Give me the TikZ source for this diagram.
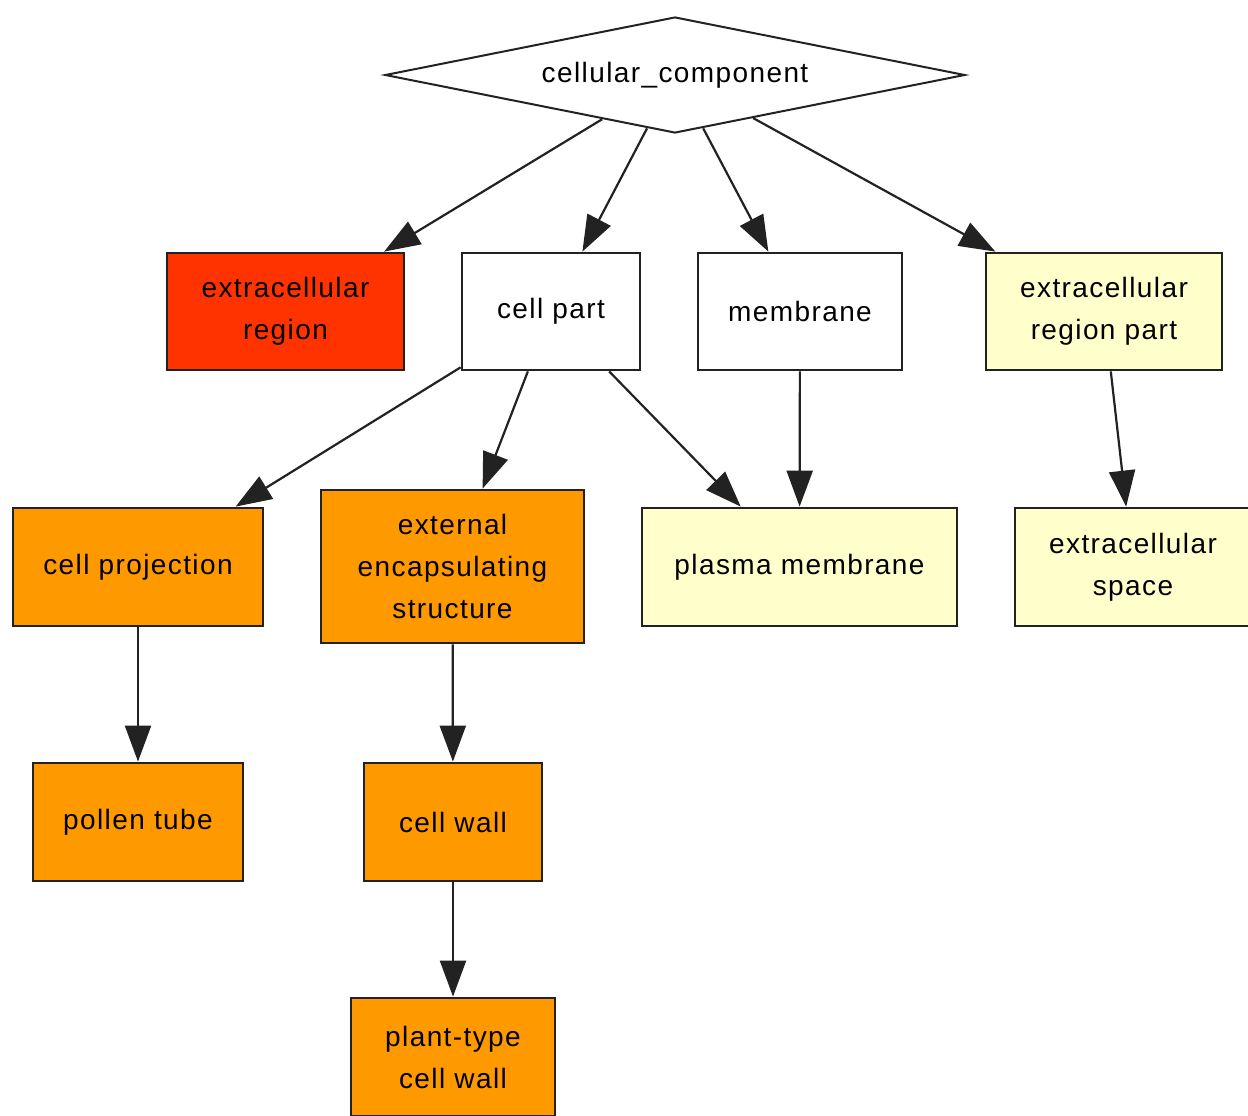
\documentclass[tikz,border=0pt]{standalone}
\usepackage{fontspec}
\setmainfont{Liberation Sans}[LetterSpace=5]
\usetikzlibrary{shapes.geometric,arrows.meta}
\definecolor{goRed}{HTML}{FF3300}
\definecolor{goOrange}{HTML}{FF9900}
\definecolor{goPale}{HTML}{FFFFCC}
\definecolor{goLine}{HTML}{222222}
\begin{document}
\begin{tikzpicture}[x=0.5pt,y=-0.5pt,
  term/.style={draw=goLine, line width=1.4pt, rectangle, inner sep=0pt,
    align=center, font=\fontsize{14pt}{21pt}\selectfont},
  root/.style={draw=goLine, line width=1pt, diamond, inner sep=0pt,
    minimum width=290pt, minimum height=58pt, aspect=5,
    font=\fontsize{14pt}{21pt}\selectfont},
  isa/.style={draw=goLine, line width=1.1pt,
    -{Triangle[length=18pt,width=13pt]}}]
\useasboundingbox (0,0) rectangle (1248,1115);
\begin{scope}
\clip (0,0) rectangle (1248,1115);
% root term
\node[root] (cc) at (675,75) {cellular\_component};
% first level
\node[term, fill=goRed, minimum width=118.5pt, minimum height=58.5pt] (er) at (285.5,311.5) {extracellular\\region};
\node[term, fill=white, minimum width=89pt, minimum height=58.5pt] (cp) at (551,311.5) {cell part};
\node[term, fill=white, minimum width=102pt, minimum height=58.5pt] (mem) at (800,311.5) {membrane};
\node[term, fill=goPale, minimum width=118pt, minimum height=58.5pt] (erp) at (1104,311.5) {extracellular\\region part};
% second level
\node[term, fill=goOrange, minimum width=125pt, minimum height=59pt] (proj) at (138,567) {cell projection};
\node[term, fill=goOrange, minimum width=131.5pt, minimum height=76.5pt] (ees) at (452.5,566.5) {external\\encapsulating\\structure};
\node[term, fill=goPale, minimum width=157.5pt, minimum height=59pt] (pm) at (799.5,567) {plasma membrane};
\node[term, fill=goPale, minimum width=118pt, minimum height=59pt] (es) at (1133,567) {extracellular\\space};
% third level
\node[term, fill=goOrange, minimum width=105pt, minimum height=59pt] (pt) at (138,822) {pollen tube};
\node[term, fill=goOrange, minimum width=89pt, minimum height=59pt] (cw) at (453,822) {cell wall};
% fourth level
\node[term, fill=goOrange, minimum width=102pt, minimum height=59pt] (ptcw) at (453,1057) {plant-type\\cell wall};
% is_a relations
\draw[isa] (cc) -- (er);
\draw[isa] (cc) -- (cp);
\draw[isa] (cc) -- (mem);
\draw[isa] (cc) -- (erp);
\draw[isa] (cp) -- (proj);
\draw[isa] (cp) -- (ees);
\draw[isa] (cp) -- (pm);
\draw[isa] (mem) -- (pm);
\draw[isa] (erp) -- (es);
\draw[isa] (proj) -- (pt);
\draw[isa] (ees) -- (cw);
\draw[isa] (cw) -- (ptcw);
\end{scope}
\end{tikzpicture}
\end{document}
